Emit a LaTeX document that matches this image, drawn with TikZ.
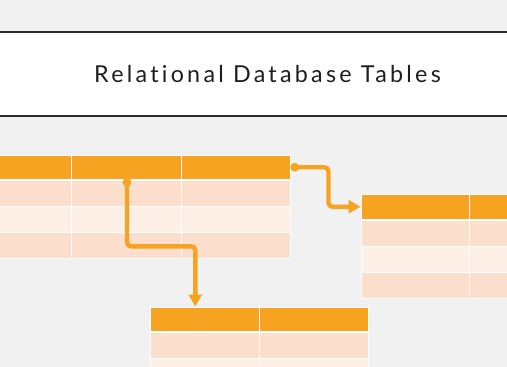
\documentclass[tikz,border=0pt]{standalone}
\usepackage{fontspec}
\usetikzlibrary{arrows.meta}
\newfontfamily\titlefont[LetterSpace=14, Ligatures=NoCommon]{Lato}
\definecolor{pageGray}{HTML}{F1F1F1}
\definecolor{ruleDark}{HTML}{2B2B2B}
\definecolor{titleInk}{HTML}{1E1E1E}
\definecolor{headOrange}{HTML}{F5A320}
\definecolor{rowDark}{HTML}{FBDFCC}
\definecolor{rowLight}{HTML}{FDEFE6}

\begin{document}
\begin{tikzpicture}[x=1pt, y=-1pt,
	cell/.style={shape=rectangle, draw=white, line width=1pt, inner sep=0pt, minimum height=26pt},
	headcell/.style={cell, fill=headOrange, minimum height=24.5pt},
	darkrow/.style={cell, fill=rowDark},
	lightrow/.style={cell, fill=rowLight},
	link/.style={draw=headOrange, line width=4.4pt, rounded corners=4pt, {Circle[length=8.5pt, width=8.5pt]}-{Triangle[length=12pt, width=13pt]}}]
	\useasboundingbox (0, 0) rectangle (507, 367);
	\fill[pageGray] (0, 0) rectangle (507, 367);
	% Title band:
	\node[shape=rectangle, fill=white, inner sep=0pt, outer sep=0pt, minimum width=507pt, minimum height=84pt] (band) at (253.5, 74){};
	\draw[ruleDark, line width=2pt] (band.north west) -- (band.north east);
	\draw[ruleDark, line width=2pt] (band.south west) -- (band.south east);
	\node[anchor=base, inner sep=0pt, text=titleInk] (title) at (267.5, 82.3){\titlefont\fontsize{23.3}{28}\selectfont Relational Database Tables};
	% Table on the left:
	\node[headcell, minimum width=111pt] (t1h1) at (15.5, 167.25){};
	\node[headcell, minimum width=110pt] (t1h2) at (126, 167.25){};
	\node[headcell, minimum width=109pt] (t1h3) at (235.5, 167.25){};
	\node[darkrow, minimum width=111pt] (t1r1c1) at (15.5, 193.5){};
	\node[darkrow, minimum width=110pt] (t1r1c2) at (126, 193.5){};
	\node[darkrow, minimum width=109pt] (t1r1c3) at (235.5, 193.5){};
	\node[lightrow, minimum width=111pt] (t1r2c1) at (15.5, 219.5){};
	\node[lightrow, minimum width=110pt] (t1r2c2) at (126, 219.5){};
	\node[lightrow, minimum width=109pt] (t1r2c3) at (235.5, 219.5){};
	\node[darkrow, minimum width=111pt] (t1r3c1) at (15.5, 245.5){};
	\node[darkrow, minimum width=110pt] (t1r3c2) at (126, 245.5){};
	\node[darkrow, minimum width=109pt] (t1r3c3) at (235.5, 245.5){};
	% Table on the right:
	\node[headcell, minimum width=108pt] (t2h1) at (415, 206.75){};
	\node[headcell, minimum width=111pt] (t2h2) at (524.5, 206.75){};
	\node[darkrow, minimum width=108pt] (t2r1c1) at (415, 233.5){};
	\node[darkrow, minimum width=111pt] (t2r1c2) at (524.5, 233.5){};
	\node[lightrow, minimum width=108pt] (t2r2c1) at (415, 259.5){};
	\node[lightrow, minimum width=111pt] (t2r2c2) at (524.5, 259.5){};
	\node[darkrow, minimum width=108pt] (t2r3c1) at (415, 285.5){};
	\node[darkrow, minimum width=111pt] (t2r3c2) at (524.5, 285.5){};
	% Table at the bottom:
	\node[headcell, minimum width=109pt] (t3h1) at (204.5, 319.25){};
	\node[headcell, minimum width=109pt] (t3h2) at (313.5, 319.25){};
	\node[darkrow, minimum width=109pt] (t3r1c1) at (204.5, 345.5){};
	\node[darkrow, minimum width=109pt] (t3r1c2) at (313.5, 345.5){};
	\node[lightrow, minimum width=109pt] (t3r2c1) at (204.5, 371.5){};
	\node[lightrow, minimum width=109pt] (t3r2c2) at (313.5, 371.5){};
	% Links between the tables:
	\coordinate (knee) at (328.5, 206.75);
	\coordinate (jog) at (195.3, 246.3);
	\draw[link] (t1h3.east) -| (knee) -- (t2h1.west);
	\draw[link] ([xshift=1pt, yshift=2pt]t1h2.south) |- (jog) -- (jog |- t3h1.north);
\end{tikzpicture}
\end{document}
